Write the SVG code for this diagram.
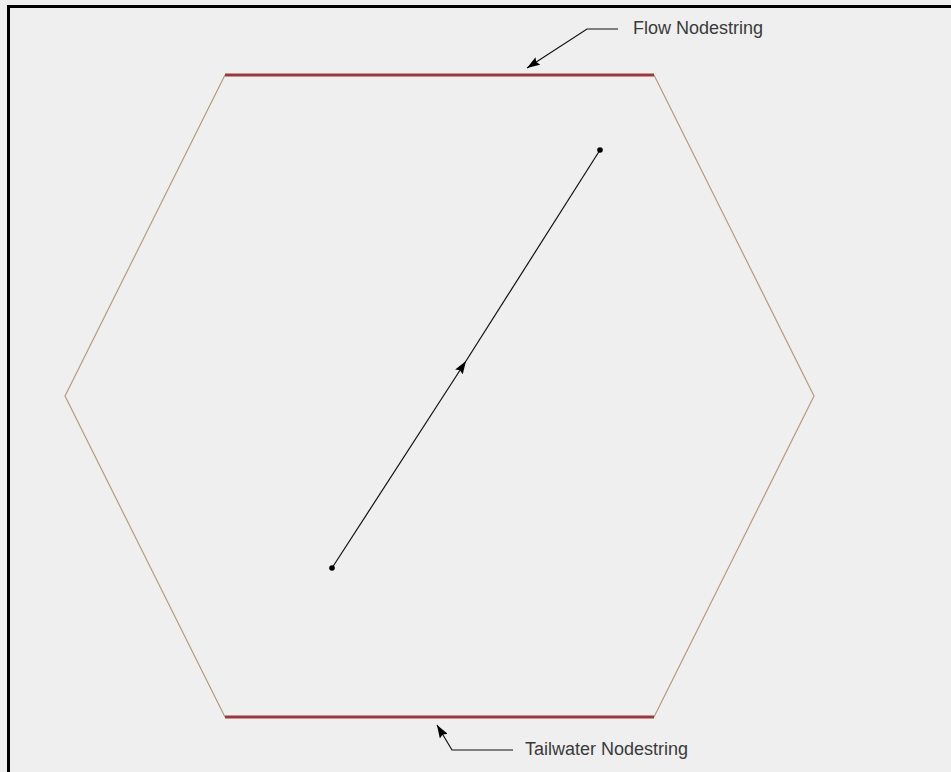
<svg xmlns="http://www.w3.org/2000/svg" width="951" height="772" viewBox="0 0 951 772">
<style>
.side{fill:none;stroke:#b49c7e;stroke-width:1.2}
.ns{fill:none;stroke:#9a3a3e;stroke-width:3}
.lead{fill:none;stroke:#111;stroke-width:1.2}
.lbl{font-family:"Liberation Sans",Arial,sans-serif;font-size:18px;fill:#3a3a3a}
</style>
<defs>
<marker id="ah" viewBox="0 0 13 9" refX="13" refY="4.5" markerWidth="13" markerHeight="9" markerUnits="userSpaceOnUse" orient="auto">
<path d="M0,0 L13,4.5 L0,9 L2,4.5 Z" fill="#000"/>
</marker>
</defs>
<rect x="0" y="0" width="951" height="772" fill="#efefef"/>
<path d="M8.5,772 V6.5 H951" fill="none" stroke="#000" stroke-width="3"/>
<g id="hexagon">
<path class="side" d="M225,75 L65,396 L225,717"/>
<path class="side" d="M654,75 L814,396 L654,717"/>
</g>
<g id="flow-nodestring">
<path class="ns" d="M225,75 H654"/>
</g>
<g id="tailwater-nodestring">
<path class="ns" d="M225,717 H654"/>
</g>
<g id="arc">
<path class="lead" d="M332,568 L466,361" marker-end="url(#ah)"/>
<path class="lead" d="M466,361 L600,150"/>
<circle cx="332" cy="568" r="2.8" fill="#000"/>
<circle cx="600" cy="150" r="2.8" fill="#000"/>
</g>
<g id="connectors">
<path class="lead" d="M618,29 H587 L527,68" marker-end="url(#ah)"/>
<path class="lead" d="M513,750 H452 L437,725" marker-end="url(#ah)"/>
</g>
<g id="label-flow">
<text class="lbl" x="633" y="34">Flow Nodestring</text>
</g>
<g id="label-tailwater">
<text class="lbl" x="525" y="755">Tailwater Nodestring</text>
</g>
</svg>
